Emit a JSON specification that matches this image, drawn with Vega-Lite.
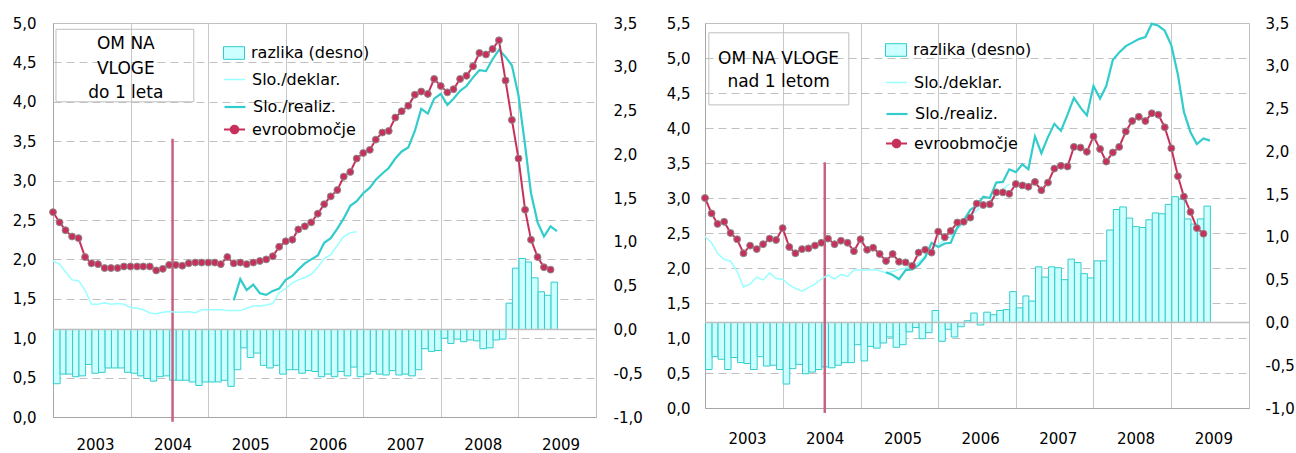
{
  "$schema": "https://vega.github.io/schema/vega-lite/v6.json",
  "background": "white",
  "padding": {"left": 5, "top": 15, "right": 5, "bottom": 0},
  "spacing": 14,
  "datasets": {
    "L": [
      {"d":"2003-01","e":2.60,"k":1.98,"z":-0.62},
      {"d":"2003-02","e":2.47,"k":1.94,"z":-0.51},
      {"d":"2003-03","e":2.37,"k":1.84,"z":-0.51},
      {"d":"2003-04","e":2.29,"k":1.74,"z":-0.54},
      {"d":"2003-05","e":2.27,"k":1.73,"z":-0.53},
      {"d":"2003-06","e":2.03,"k":1.61,"z":-0.40},
      {"d":"2003-07","e":1.95,"k":1.43,"z":-0.50},
      {"d":"2003-08","e":1.94,"k":1.43,"z":-0.49},
      {"d":"2003-09","e":1.89,"k":1.45,"z":-0.44},
      {"d":"2003-10","e":1.89,"k":1.43,"z":-0.44},
      {"d":"2003-11","e":1.89,"k":1.44,"z":-0.44},
      {"d":"2003-12","e":1.91,"k":1.43,"z":-0.49},
      {"d":"2004-01","e":1.91,"k":1.39,"z":-0.50},
      {"d":"2004-02","e":1.91,"k":1.38,"z":-0.53},
      {"d":"2004-03","e":1.91,"k":1.36,"z":-0.56},
      {"d":"2004-04","e":1.91,"k":1.32,"z":-0.59},
      {"d":"2004-05","e":1.86,"k":1.31,"z":-0.54},
      {"d":"2004-06","e":1.88,"k":1.33,"z":-0.53},
      {"d":"2004-07","e":1.93,"k":1.34,"z":-0.58},
      {"d":"2004-08","e":1.93,"k":1.33,"z":-0.58},
      {"d":"2004-09","e":1.92,"k":1.33,"z":-0.58},
      {"d":"2004-10","e":1.95,"k":1.34,"z":-0.60},
      {"d":"2004-11","e":1.96,"k":1.32,"z":-0.64},
      {"d":"2004-12","e":1.96,"k":1.36,"z":-0.60},
      {"d":"2005-01","e":1.96,"k":1.36,"z":-0.60},
      {"d":"2005-02","e":1.96,"k":1.36,"z":-0.60},
      {"d":"2005-03","e":1.94,"k":1.36,"z":-0.58},
      {"d":"2005-04","e":2.03,"k":1.35,"z":-0.65},
      {"d":"2005-05","e":1.95,"k":1.35,"r":1.48,"z":-0.46},
      {"d":"2005-06","e":1.96,"k":1.35,"r":1.75,"z":-0.21},
      {"d":"2005-07","e":1.94,"k":1.38,"r":1.61,"z":-0.32},
      {"d":"2005-08","e":1.96,"k":1.41,"r":1.68,"z":-0.27},
      {"d":"2005-09","e":1.98,"k":1.41,"r":1.57,"z":-0.41},
      {"d":"2005-10","e":2.00,"k":1.42,"r":1.55,"z":-0.44},
      {"d":"2005-11","e":2.04,"k":1.44,"r":1.60,"z":-0.41},
      {"d":"2005-12","e":2.16,"k":1.58,"r":1.63,"z":-0.51},
      {"d":"2006-01","e":2.23,"k":1.63,"r":1.74,"z":-0.46},
      {"d":"2006-02","e":2.25,"k":1.70,"r":1.79,"z":-0.46},
      {"d":"2006-03","e":2.38,"k":1.74,"r":1.87,"z":-0.50},
      {"d":"2006-04","e":2.42,"k":1.77,"r":1.95,"z":-0.47},
      {"d":"2006-05","e":2.47,"k":1.81,"r":2.00,"z":-0.48},
      {"d":"2006-06","e":2.58,"k":1.90,"r":2.05,"z":-0.54},
      {"d":"2006-07","e":2.70,"k":2.01,"r":2.21,"z":-0.51},
      {"d":"2006-08","e":2.80,"k":2.06,"r":2.27,"z":-0.54},
      {"d":"2006-09","e":2.88,"k":2.18,"r":2.39,"z":-0.48},
      {"d":"2006-10","e":3.05,"k":2.29,"r":2.52,"z":-0.53},
      {"d":"2006-11","e":3.11,"k":2.34,"r":2.68,"z":-0.43},
      {"d":"2006-12","e":3.28,"k":2.35,"r":2.74,"z":-0.54},
      {"d":"2007-01","e":3.35,"r":2.84,"z":-0.51},
      {"d":"2007-02","e":3.39,"r":2.91,"z":-0.48},
      {"d":"2007-03","e":3.52,"r":3.01,"z":-0.51},
      {"d":"2007-04","e":3.61,"r":3.09,"z":-0.52},
      {"d":"2007-05","e":3.63,"r":3.16,"z":-0.47},
      {"d":"2007-06","e":3.80,"r":3.28,"z":-0.52},
      {"d":"2007-07","e":3.88,"r":3.37,"z":-0.51},
      {"d":"2007-08","e":3.95,"r":3.42,"z":-0.53},
      {"d":"2007-09","e":4.09,"r":3.63,"z":-0.46},
      {"d":"2007-10","e":4.13,"r":3.91,"z":-0.22},
      {"d":"2007-11","e":4.10,"r":3.85,"z":-0.25},
      {"d":"2007-12","e":4.29,"r":4.04,"z":-0.24},
      {"d":"2008-01","e":4.20,"r":4.10,"z":-0.10},
      {"d":"2008-02","e":4.12,"r":3.96,"z":-0.16},
      {"d":"2008-03","e":4.16,"r":4.04,"z":-0.11},
      {"d":"2008-04","e":4.29,"r":4.14,"z":-0.14},
      {"d":"2008-05","e":4.33,"r":4.20,"z":-0.12},
      {"d":"2008-06","e":4.45,"r":4.31,"z":-0.13},
      {"d":"2008-07","e":4.62,"r":4.40,"z":-0.22},
      {"d":"2008-08","e":4.60,"r":4.39,"z":-0.21},
      {"d":"2008-09","e":4.67,"r":4.54,"z":-0.12},
      {"d":"2008-10","e":4.78,"r":4.66,"z":-0.11},
      {"d":"2008-11","e":4.27,"r":4.57,"z":0.30},
      {"d":"2008-12","e":3.77,"r":4.46,"z":0.70},
      {"d":"2009-01","e":3.28,"r":4.08,"z":0.81},
      {"d":"2009-02","e":2.63,"r":3.45,"z":0.77},
      {"d":"2009-03","e":2.25,"r":2.84,"z":0.59},
      {"d":"2009-04","e":2.03,"r":2.47,"z":0.43},
      {"d":"2009-05","e":1.90,"r":2.29,"z":0.39},
      {"d":"2009-06","e":1.87,"r":2.42,"z":0.54},
      {"d":"2009-07","r":2.36}
    ],
    "R": [
      {"d":"2003-01","e":3.00,"k":2.45,"z":-0.55},
      {"d":"2003-02","e":2.78,"k":2.36,"z":-0.40},
      {"d":"2003-03","e":2.63,"k":2.21,"z":-0.43},
      {"d":"2003-04","e":2.66,"k":2.12,"z":-0.55},
      {"d":"2003-05","e":2.50,"k":2.10,"z":-0.41},
      {"d":"2003-06","e":2.41,"k":1.95,"z":-0.47},
      {"d":"2003-07","e":2.21,"k":1.73,"z":-0.48},
      {"d":"2003-08","e":2.32,"k":1.77,"z":-0.55},
      {"d":"2003-09","e":2.27,"k":1.87,"z":-0.40},
      {"d":"2003-10","e":2.34,"k":1.83,"z":-0.51},
      {"d":"2003-11","e":2.42,"k":1.93,"z":-0.50},
      {"d":"2003-12","e":2.40,"k":1.85,"z":-0.55},
      {"d":"2004-01","e":2.57,"k":1.84,"z":-0.72},
      {"d":"2004-02","e":2.30,"k":1.76,"z":-0.54},
      {"d":"2004-03","e":2.21,"k":1.71,"z":-0.49},
      {"d":"2004-04","e":2.27,"k":1.67,"z":-0.60},
      {"d":"2004-05","e":2.28,"k":1.72,"z":-0.58},
      {"d":"2004-06","e":2.32,"k":1.77,"z":-0.55},
      {"d":"2004-07","e":2.36,"k":1.84,"z":-0.52},
      {"d":"2004-08","e":2.42,"k":1.90,"z":-0.53},
      {"d":"2004-09","e":2.34,"k":1.84,"z":-0.50},
      {"d":"2004-10","e":2.39,"k":1.91,"z":-0.47},
      {"d":"2004-11","e":2.36,"k":1.88,"z":-0.47},
      {"d":"2004-12","e":2.24,"k":1.97,"z":-0.26},
      {"d":"2005-01","e":2.41,"k":1.97,"z":-0.45},
      {"d":"2005-02","e":2.26,"k":1.97,"z":-0.28},
      {"d":"2005-03","e":2.29,"k":1.98,"z":-0.30},
      {"d":"2005-04","e":2.20,"k":1.96,"z":-0.24},
      {"d":"2005-05","e":2.10,"k":1.93,"r":1.94,"z":-0.17},
      {"d":"2005-06","e":2.20,"k":1.95,"r":1.90,"z":-0.29},
      {"d":"2005-07","e":2.09,"k":1.98,"r":1.84,"z":-0.26},
      {"d":"2005-08","e":2.08,"k":2.00,"r":1.97,"z":-0.11},
      {"d":"2005-09","e":2.03,"k":2.03,"r":1.98,"z":-0.06},
      {"d":"2005-10","e":2.22,"k":2.08,"r":2.04,"z":-0.19},
      {"d":"2005-11","e":2.26,"k":2.18,"r":2.15,"z":-0.12},
      {"d":"2005-12","e":2.22,"k":2.28,"r":2.36,"z":0.14},
      {"d":"2006-01","e":2.52,"k":2.33,"r":2.30,"z":-0.22},
      {"d":"2006-02","e":2.44,"k":2.40,"r":2.35,"z":-0.08},
      {"d":"2006-03","e":2.53,"k":2.45,"r":2.36,"z":-0.17},
      {"d":"2006-04","e":2.65,"k":2.55,"r":2.58,"z":-0.05},
      {"d":"2006-05","e":2.66,"k":2.65,"r":2.68,"z":0.02},
      {"d":"2006-06","e":2.72,"k":2.75,"r":2.83,"z":0.11},
      {"d":"2006-07","e":2.92,"k":2.82,"r":2.89,"z":-0.03},
      {"d":"2006-08","e":2.90,"k":2.90,"r":3.02,"z":0.12},
      {"d":"2006-09","e":2.91,"k":2.95,"r":3.00,"z":0.09},
      {"d":"2006-10","e":3.08,"k":3.05,"r":3.22,"z":0.14},
      {"d":"2006-11","e":3.08,"k":3.12,"r":3.23,"z":0.15},
      {"d":"2006-12","e":3.06,"k":3.20,"r":3.41,"z":0.36},
      {"d":"2007-01","e":3.20,"r":3.37,"z":0.17},
      {"d":"2007-02","e":3.18,"r":3.48,"z":0.31},
      {"d":"2007-03","e":3.16,"r":3.41,"z":0.25},
      {"d":"2007-04","e":3.23,"r":3.88,"z":0.65},
      {"d":"2007-05","e":3.11,"r":3.64,"z":0.53},
      {"d":"2007-06","e":3.22,"r":3.87,"z":0.65},
      {"d":"2007-07","e":3.42,"r":4.06,"z":0.64},
      {"d":"2007-08","e":3.46,"r":3.96,"z":0.50},
      {"d":"2007-09","e":3.45,"r":4.19,"z":0.74},
      {"d":"2007-10","e":3.73,"r":4.43,"z":0.70},
      {"d":"2007-11","e":3.72,"r":4.29,"z":0.57},
      {"d":"2007-12","e":3.66,"r":4.18,"z":0.52},
      {"d":"2008-01","e":3.88,"r":4.60,"z":0.72},
      {"d":"2008-02","e":3.70,"r":4.42,"z":0.72},
      {"d":"2008-03","e":3.52,"r":4.60,"z":1.08},
      {"d":"2008-04","e":3.65,"r":4.97,"z":1.32},
      {"d":"2008-05","e":3.73,"r":5.08,"z":1.35},
      {"d":"2008-06","e":3.95,"r":5.17,"z":1.22},
      {"d":"2008-07","e":4.10,"r":5.22,"z":1.12},
      {"d":"2008-08","e":4.16,"r":5.27,"z":1.11},
      {"d":"2008-09","e":4.10,"r":5.30,"z":1.20},
      {"d":"2008-10","e":4.21,"r":5.49,"z":1.28},
      {"d":"2008-11","e":4.19,"r":5.46,"z":1.27},
      {"d":"2008-12","e":4.01,"r":5.39,"z":1.38},
      {"d":"2009-01","e":3.71,"r":5.18,"z":1.47},
      {"d":"2009-02","e":3.31,"r":4.76,"z":1.44},
      {"d":"2009-03","e":3.02,"r":4.23,"z":1.21},
      {"d":"2009-04","e":2.80,"r":3.94,"z":1.15},
      {"d":"2009-05","e":2.57,"r":3.77,"z":1.21},
      {"d":"2009-06","e":2.49,"r":3.85,"z":1.36},
      {"d":"2009-07","r":3.82}
    ]
  },
  "hconcat": [
    {
      "width": 543,
      "height": 394,
      "data": {"name": "L"},
      "layer": [
        {
          "layer": [
            {
              "mark": {"type": "bar", "stroke": "#33CCCC", "strokeWidth": 1, "binSpacing": 0},
              "encoding": {
                "x": {"field": "d", "timeUnit": "utcyearmonth", "type": "temporal",
                  "scale": {"type": "utc", "domain": [{"year": 2003, "month": 1, "date": 1, "utc": true}, {"year": 2010, "month": 1, "date": 1, "utc": true}]},
                  "axis": {"title": null, "values": [{"year": 2003, "month": 1, "date": 1, "utc": true}, {"year": 2004, "month": 1, "date": 1, "utc": true}, {"year": 2005, "month": 1, "date": 1, "utc": true}, {"year": 2006, "month": 1, "date": 1, "utc": true}, {"year": 2007, "month": 1, "date": 1, "utc": true}, {"year": 2008, "month": 1, "date": 1, "utc": true}, {"year": 2009, "month": 1, "date": 1, "utc": true}],
                    "labelExpr": "utcFormat(datum.value, '%Y')", "labelOffset": 42, "labelPadding": 20, "labelAlign": "center", "labelFlush": false, "labelOverlap": false, "labelBound": false, "grid": true, "gridColor": "#C8C8C8", "ticks": false, "domainColor": "#A6A6A6"}},
                "y": {"field": "z", "type": "quantitative", "scale": {"domain": [-1, 3.5], "nice": false},
                  "axis": {"orient": "right", "title": null, "values": [-1, -0.5, 0, 0.5, 1, 1.5, 2, 2.5, 3, 3.5], "labelExpr": "replace(replace(format(datum.value, '.1f'), '.', ','), '\u2212', '-')", "grid": false, "domain": false, "ticks": false, "labelPadding": 17, "labelOverlap": false, "labelFlush": false, "minExtent": 48, "maxExtent": 48}},
                "y2": {"datum": 0},
                "fill": {"datum": "razlika (desno)", "type": "nominal",
                  "scale": {"domain": ["razlika (desno)"], "range": ["#CCFFFF"]},
                  "legend": {"orient": "none", "legendX": 170, "legendY": 19, "title": null, "padding": 0, "labelOffset": 6, "labelFontSize": 16, "labelColor": "#000000", "symbolSize": 441, "symbolType": "M-1,-0.6H1V0.6H-1Z", "symbolStrokeColor": "#33CCCC", "symbolStrokeWidth": 1, "symbolOpacity": 1}}
              }
            },
            {
              "data": {"values": [{}]},
              "mark": {"type": "rule", "color": "#BFBFBF", "strokeWidth": 1.5},
              "encoding": {"y": {"datum": 0, "type": "quantitative"}}
            }
          ]
        },
        {
          "layer": [
            {
              "data": {"values": [{}]},
              "mark": {"type": "rect", "fill": "white", "fillOpacity": 0, "stroke": "#BFBFBF", "strokeWidth": 1},
              "encoding": {
                "x": {"datum": {"year": 2003, "month": 1, "date": 15, "utc": true}, "type": "temporal"},
                "x2": {"datum": {"year": 2004, "month": 10, "date": 25, "utc": true}},
                "y": {"datum": 4.0, "type": "quantitative", "scale": {"domain": [0, 5], "nice": false},
                  "axis": {"orient": "left", "title": null, "values": [0, 0.5, 1, 1.5, 2, 2.5, 3, 3.5, 4, 4.5, 5], "labelExpr": "replace(format(datum.value, '.1f'), '.', ',')", "grid": true, "gridColor": "#C0C0C0", "gridDash": [8, 5], "domain": true, "domainColor": "#A6A6A6", "ticks": false, "labelPadding": 17, "labelOverlap": false, "labelFlush": false, "minExtent": 47, "maxExtent": 47}},
                "y2": {"datum": 4.92}
              }
            },
            {
              "data": {"values": [{}]},
              "mark": {"type": "text", "text": ["OM NA", "VLOGE", "do 1 leta"], "fontSize": 17, "lineHeight": 24.5, "align": "center", "baseline": "middle", "color": "#000000"},
              "encoding": {
                "x": {"datum": {"year": 2003, "month": 12, "date": 10, "utc": true}, "type": "temporal"},
                "y": {"datum": 4.73, "type": "quantitative", "scale": {"domain": [0, 5], "nice": false},
                  "axis": {"orient": "left", "title": null, "values": [0, 0.5, 1, 1.5, 2, 2.5, 3, 3.5, 4, 4.5, 5], "labelExpr": "replace(format(datum.value, '.1f'), '.', ',')", "grid": true, "gridColor": "#C0C0C0", "gridDash": [8, 5], "domain": true, "domainColor": "#A6A6A6", "ticks": false, "labelPadding": 17, "labelOverlap": false, "labelFlush": false, "minExtent": 47, "maxExtent": 47}}
              }
            },
            {
              "data": {"values": [{}]},
              "mark": {"type": "rule", "color": "#C8607F", "strokeWidth": 2.5},
              "encoding": {
                "x": {"datum": {"year": 2004, "month": 7, "date": 17, "utc": true}, "type": "temporal"},
                "y": {"datum": 3.53, "type": "quantitative", "scale": {"domain": [0, 5], "nice": false},
                  "axis": {"orient": "left", "title": null, "values": [0, 0.5, 1, 1.5, 2, 2.5, 3, 3.5, 4, 4.5, 5], "labelExpr": "replace(format(datum.value, '.1f'), '.', ',')", "grid": true, "gridColor": "#C0C0C0", "gridDash": [8, 5], "domain": true, "domainColor": "#A6A6A6", "ticks": false, "labelPadding": 17, "labelOverlap": false, "labelFlush": false, "minExtent": 47, "maxExtent": 47}},
                "y2": {"datum": -0.06}
              }
            },
            {
              "mark": {"type": "line", "strokeWidth": 1.5, "timeUnitBandPosition": 0.5},
              "encoding": {
                "x": {"field": "d", "timeUnit": "utcyearmonth", "type": "temporal"},
                "y": {"field": "k", "type": "quantitative", "scale": {"domain": [0, 5], "nice": false},
                  "axis": {"orient": "left", "title": null, "values": [0, 0.5, 1, 1.5, 2, 2.5, 3, 3.5, 4, 4.5, 5], "labelExpr": "replace(format(datum.value, '.1f'), '.', ',')", "grid": true, "gridColor": "#C0C0C0", "gridDash": [8, 5], "domain": true, "domainColor": "#A6A6A6", "ticks": false, "labelPadding": 17, "labelOverlap": false, "labelFlush": false, "minExtent": 47, "maxExtent": 47}},
                "stroke": {"datum": "Slo./deklar.", "type": "nominal",
                  "scale": {"domain": ["Slo./deklar."], "range": ["#99FFFF"]},
                  "legend": {"orient": "none", "legendX": 170, "legendY": 45, "title": null, "padding": 0, "labelOffset": 6, "labelFontSize": 16, "labelColor": "#000000", "symbolSize": 441, "symbolType": "stroke", "symbolStrokeWidth": 1.5, "symbolOpacity": 1}}
              }
            },
            {
              "mark": {"type": "line", "strokeWidth": 2.2, "timeUnitBandPosition": 0.5},
              "encoding": {
                "x": {"field": "d", "timeUnit": "utcyearmonth", "type": "temporal"},
                "y": {"field": "r", "type": "quantitative", "scale": {"domain": [0, 5], "nice": false},
                  "axis": {"orient": "left", "title": null, "values": [0, 0.5, 1, 1.5, 2, 2.5, 3, 3.5, 4, 4.5, 5], "labelExpr": "replace(format(datum.value, '.1f'), '.', ',')", "grid": true, "gridColor": "#C0C0C0", "gridDash": [8, 5], "domain": true, "domainColor": "#A6A6A6", "ticks": false, "labelPadding": 17, "labelOverlap": false, "labelFlush": false, "minExtent": 47, "maxExtent": 47}},
                "color": {"datum": "Slo./realiz.", "type": "nominal",
                  "scale": {"domain": ["Slo./realiz."], "range": ["#33CCCC"]},
                  "legend": {"orient": "none", "legendX": 170, "legendY": 72, "title": null, "padding": 0, "labelOffset": 6, "labelFontSize": 16, "labelColor": "#000000", "symbolSize": 441, "symbolType": "stroke", "symbolStrokeWidth": 2.2, "symbolOpacity": 1}}
              }
            },
            {
              "mark": {"type": "line", "color": "#C8305C", "strokeWidth": 2, "timeUnitBandPosition": 0.5},
              "encoding": {
                "x": {"field": "d", "timeUnit": "utcyearmonth", "type": "temporal"},
                "y": {"field": "e", "type": "quantitative", "scale": {"domain": [0, 5], "nice": false},
                  "axis": {"orient": "left", "title": null, "values": [0, 0.5, 1, 1.5, 2, 2.5, 3, 3.5, 4, 4.5, 5], "labelExpr": "replace(format(datum.value, '.1f'), '.', ',')", "grid": true, "gridColor": "#C0C0C0", "gridDash": [8, 5], "domain": true, "domainColor": "#A6A6A6", "ticks": false, "labelPadding": 17, "labelOverlap": false, "labelFlush": false, "minExtent": 47, "maxExtent": 47}},
                "strokeDash": {"datum": "evroobmočje", "type": "nominal",
                  "scale": {"domain": ["evroobmočje"], "range": [[1, 0]]},
                  "legend": {"orient": "none", "legendX": 170, "legendY": 95, "title": null, "padding": 0, "labelOffset": 6, "labelFontSize": 16, "labelColor": "#000000", "symbolSize": 441, "symbolType": "M-1,0H1M0.36,0A0.36,0.36,0,1,1,-0.36,0A0.36,0.36,0,1,1,0.36,0Z", "symbolStrokeColor": "#C8305C", "symbolFillColor": "#C8305C", "symbolStrokeWidth": 2, "symbolOpacity": 1}}
              }
            },
            {
              "mark": {"type": "point", "filled": true, "fill": "#C8305C", "stroke": "#8C8C8C", "strokeWidth": 1, "size": 48, "opacity": 1, "timeUnitBandPosition": 0.5},
              "encoding": {
                "x": {"field": "d", "timeUnit": "utcyearmonth", "type": "temporal"},
                "y": {"field": "e", "type": "quantitative", "scale": {"domain": [0, 5], "nice": false},
                  "axis": {"orient": "left", "title": null, "values": [0, 0.5, 1, 1.5, 2, 2.5, 3, 3.5, 4, 4.5, 5], "labelExpr": "replace(format(datum.value, '.1f'), '.', ',')", "grid": true, "gridColor": "#C0C0C0", "gridDash": [8, 5], "domain": true, "domainColor": "#A6A6A6", "ticks": false, "labelPadding": 17, "labelOverlap": false, "labelFlush": false, "minExtent": 47, "maxExtent": 47}}
              }
            }
          ]
        }
      ],
      "resolve": {"scale": {"y": "independent"}, "axis": {"y": "independent"}}
    },
    {
      "width": 544,
      "height": 385,
      "data": {"name": "R"},
      "layer": [
        {
          "layer": [
            {
              "mark": {"type": "bar", "stroke": "#33CCCC", "strokeWidth": 1, "binSpacing": 0},
              "encoding": {
                "x": {"field": "d", "timeUnit": "utcyearmonth", "type": "temporal",
                  "scale": {"type": "utc", "domain": [{"year": 2003, "month": 1, "date": 1, "utc": true}, {"year": 2010, "month": 1, "date": 1, "utc": true}]},
                  "axis": {"title": null, "values": [{"year": 2003, "month": 1, "date": 1, "utc": true}, {"year": 2004, "month": 1, "date": 1, "utc": true}, {"year": 2005, "month": 1, "date": 1, "utc": true}, {"year": 2006, "month": 1, "date": 1, "utc": true}, {"year": 2007, "month": 1, "date": 1, "utc": true}, {"year": 2008, "month": 1, "date": 1, "utc": true}, {"year": 2009, "month": 1, "date": 1, "utc": true}],
                    "labelExpr": "utcFormat(datum.value, '%Y')", "labelOffset": 42, "labelPadding": 23, "labelAlign": "center", "labelFlush": false, "labelOverlap": false, "labelBound": false, "grid": true, "gridColor": "#C8C8C8", "ticks": false, "domainColor": "#A6A6A6"}},
                "y": {"field": "z", "type": "quantitative", "scale": {"domain": [-1, 3.5], "nice": false},
                  "axis": {"orient": "right", "title": null, "values": [-1, -0.5, 0, 0.5, 1, 1.5, 2, 2.5, 3, 3.5], "labelExpr": "replace(replace(format(datum.value, '.1f'), '.', ','), '\u2212', '-')", "grid": false, "domain": false, "ticks": false, "labelPadding": 16, "labelOverlap": false, "labelFlush": false, "minExtent": 44, "maxExtent": 44}},
                "y2": {"datum": 0},
                "fill": {"datum": "razlika (desno)", "type": "nominal",
                  "scale": {"domain": ["razlika (desno)"], "range": ["#CCFFFF"]},
                  "legend": {"orient": "none", "legendX": 180, "legendY": 16, "title": null, "padding": 0, "labelOffset": 6, "labelFontSize": 16, "labelColor": "#000000", "symbolSize": 441, "symbolType": "M-1,-0.6H1V0.6H-1Z", "symbolStrokeColor": "#33CCCC", "symbolStrokeWidth": 1, "symbolOpacity": 1}}
              }
            },
            {
              "data": {"values": [{}]},
              "mark": {"type": "rule", "color": "#BFBFBF", "strokeWidth": 1.5},
              "encoding": {"y": {"datum": 0, "type": "quantitative"}}
            }
          ]
        },
        {
          "layer": [
            {
              "data": {"values": [{}]},
              "mark": {"type": "rect", "fill": "white", "fillOpacity": 0, "stroke": "#BFBFBF", "strokeWidth": 1},
              "encoding": {
                "x": {"datum": {"year": 2003, "month": 1, "date": 19, "utc": true}, "type": "temporal"},
                "x2": {"datum": {"year": 2004, "month": 11, "date": 7, "utc": true}},
                "y": {"datum": 4.33, "type": "quantitative", "scale": {"domain": [0, 5.5], "nice": false},
                  "axis": {"orient": "left", "title": null, "values": [0, 0.5, 1, 1.5, 2, 2.5, 3, 3.5, 4, 4.5, 5, 5.5], "labelExpr": "replace(format(datum.value, '.1f'), '.', ',')", "grid": true, "gridColor": "#C0C0C0", "gridDash": [8, 5], "domain": true, "domainColor": "#A6A6A6", "ticks": false, "labelPadding": 15, "labelOverlap": false, "labelFlush": false, "minExtent": 45, "maxExtent": 45}},
                "y2": {"datum": 5.36}
              }
            },
            {
              "data": {"values": [{}]},
              "mark": {"type": "text", "text": ["OM NA VLOGE", "nad 1 letom"], "fontSize": 17, "lineHeight": 23, "align": "center", "baseline": "middle", "color": "#000000"},
              "encoding": {
                "x": {"datum": {"year": 2003, "month": 12, "date": 13, "utc": true}, "type": "temporal"},
                "y": {"datum": 4.99, "type": "quantitative", "scale": {"domain": [0, 5.5], "nice": false},
                  "axis": {"orient": "left", "title": null, "values": [0, 0.5, 1, 1.5, 2, 2.5, 3, 3.5, 4, 4.5, 5, 5.5], "labelExpr": "replace(format(datum.value, '.1f'), '.', ',')", "grid": true, "gridColor": "#C0C0C0", "gridDash": [8, 5], "domain": true, "domainColor": "#A6A6A6", "ticks": false, "labelPadding": 15, "labelOverlap": false, "labelFlush": false, "minExtent": 45, "maxExtent": 45}}
              }
            },
            {
              "data": {"values": [{}]},
              "mark": {"type": "rule", "color": "#C8607F", "strokeWidth": 2.5},
              "encoding": {
                "x": {"datum": {"year": 2004, "month": 7, "date": 17, "utc": true}, "type": "temporal"},
                "y": {"datum": 3.51, "type": "quantitative", "scale": {"domain": [0, 5.5], "nice": false},
                  "axis": {"orient": "left", "title": null, "values": [0, 0.5, 1, 1.5, 2, 2.5, 3, 3.5, 4, 4.5, 5, 5.5], "labelExpr": "replace(format(datum.value, '.1f'), '.', ',')", "grid": true, "gridColor": "#C0C0C0", "gridDash": [8, 5], "domain": true, "domainColor": "#A6A6A6", "ticks": false, "labelPadding": 15, "labelOverlap": false, "labelFlush": false, "minExtent": 45, "maxExtent": 45}},
                "y2": {"datum": -0.07}
              }
            },
            {
              "mark": {"type": "line", "strokeWidth": 1.5, "timeUnitBandPosition": 0.5},
              "encoding": {
                "x": {"field": "d", "timeUnit": "utcyearmonth", "type": "temporal"},
                "y": {"field": "k", "type": "quantitative", "scale": {"domain": [0, 5.5], "nice": false},
                  "axis": {"orient": "left", "title": null, "values": [0, 0.5, 1, 1.5, 2, 2.5, 3, 3.5, 4, 4.5, 5, 5.5], "labelExpr": "replace(format(datum.value, '.1f'), '.', ',')", "grid": true, "gridColor": "#C0C0C0", "gridDash": [8, 5], "domain": true, "domainColor": "#A6A6A6", "ticks": false, "labelPadding": 15, "labelOverlap": false, "labelFlush": false, "minExtent": 45, "maxExtent": 45}},
                "stroke": {"datum": "Slo./deklar.", "type": "nominal",
                  "scale": {"domain": ["Slo./deklar."], "range": ["#99FFFF"]},
                  "legend": {"orient": "none", "legendX": 180, "legendY": 48, "title": null, "padding": 0, "labelOffset": 6, "labelFontSize": 16, "labelColor": "#000000", "symbolSize": 441, "symbolType": "stroke", "symbolStrokeWidth": 1.5, "symbolOpacity": 1}}
              }
            },
            {
              "mark": {"type": "line", "strokeWidth": 2.2, "timeUnitBandPosition": 0.5},
              "encoding": {
                "x": {"field": "d", "timeUnit": "utcyearmonth", "type": "temporal"},
                "y": {"field": "r", "type": "quantitative", "scale": {"domain": [0, 5.5], "nice": false},
                  "axis": {"orient": "left", "title": null, "values": [0, 0.5, 1, 1.5, 2, 2.5, 3, 3.5, 4, 4.5, 5, 5.5], "labelExpr": "replace(format(datum.value, '.1f'), '.', ',')", "grid": true, "gridColor": "#C0C0C0", "gridDash": [8, 5], "domain": true, "domainColor": "#A6A6A6", "ticks": false, "labelPadding": 15, "labelOverlap": false, "labelFlush": false, "minExtent": 45, "maxExtent": 45}},
                "color": {"datum": "Slo./realiz.", "type": "nominal",
                  "scale": {"domain": ["Slo./realiz."], "range": ["#33CCCC"]},
                  "legend": {"orient": "none", "legendX": 180, "legendY": 79, "title": null, "padding": 0, "labelOffset": 6, "labelFontSize": 16, "labelColor": "#000000", "symbolSize": 441, "symbolType": "stroke", "symbolStrokeWidth": 2.2, "symbolOpacity": 1}}
              }
            },
            {
              "mark": {"type": "line", "color": "#C8305C", "strokeWidth": 2, "timeUnitBandPosition": 0.5},
              "encoding": {
                "x": {"field": "d", "timeUnit": "utcyearmonth", "type": "temporal"},
                "y": {"field": "e", "type": "quantitative", "scale": {"domain": [0, 5.5], "nice": false},
                  "axis": {"orient": "left", "title": null, "values": [0, 0.5, 1, 1.5, 2, 2.5, 3, 3.5, 4, 4.5, 5, 5.5], "labelExpr": "replace(format(datum.value, '.1f'), '.', ',')", "grid": true, "gridColor": "#C0C0C0", "gridDash": [8, 5], "domain": true, "domainColor": "#A6A6A6", "ticks": false, "labelPadding": 15, "labelOverlap": false, "labelFlush": false, "minExtent": 45, "maxExtent": 45}},
                "strokeDash": {"datum": "evroobmočje", "type": "nominal",
                  "scale": {"domain": ["evroobmočje"], "range": [[1, 0]]},
                  "legend": {"orient": "none", "legendX": 180, "legendY": 109, "title": null, "padding": 0, "labelOffset": 6, "labelFontSize": 16, "labelColor": "#000000", "symbolSize": 441, "symbolType": "M-1,0H1M0.36,0A0.36,0.36,0,1,1,-0.36,0A0.36,0.36,0,1,1,0.36,0Z", "symbolStrokeColor": "#C8305C", "symbolFillColor": "#C8305C", "symbolStrokeWidth": 2, "symbolOpacity": 1}}
              }
            },
            {
              "mark": {"type": "point", "filled": true, "fill": "#C8305C", "stroke": "#8C8C8C", "strokeWidth": 1, "size": 48, "opacity": 1, "timeUnitBandPosition": 0.5},
              "encoding": {
                "x": {"field": "d", "timeUnit": "utcyearmonth", "type": "temporal"},
                "y": {"field": "e", "type": "quantitative", "scale": {"domain": [0, 5.5], "nice": false},
                  "axis": {"orient": "left", "title": null, "values": [0, 0.5, 1, 1.5, 2, 2.5, 3, 3.5, 4, 4.5, 5, 5.5], "labelExpr": "replace(format(datum.value, '.1f'), '.', ',')", "grid": true, "gridColor": "#C0C0C0", "gridDash": [8, 5], "domain": true, "domainColor": "#A6A6A6", "ticks": false, "labelPadding": 15, "labelOverlap": false, "labelFlush": false, "minExtent": 45, "maxExtent": 45}}
              }
            }
          ]
        }
      ],
      "resolve": {"scale": {"y": "independent"}, "axis": {"y": "independent"}}
    }
  ],
  "resolve": {
    "scale": {"color": "independent", "fill": "independent", "stroke": "independent", "strokeDash": "independent"},
    "legend": {"color": "independent", "fill": "independent", "stroke": "independent", "strokeDash": "independent"}
  },
  "config": {
    "font": "DejaVu Sans",
    "view": {"stroke": "#C0C0C0", "strokeWidth": 1},
    "axis": {"labelFontSize": 15, "labelColor": "#000000", "labelFont": "DejaVu Sans"},
    "legend": {"labelFont": "DejaVu Sans"},
    "text": {"font": "DejaVu Sans"}
  }
}
